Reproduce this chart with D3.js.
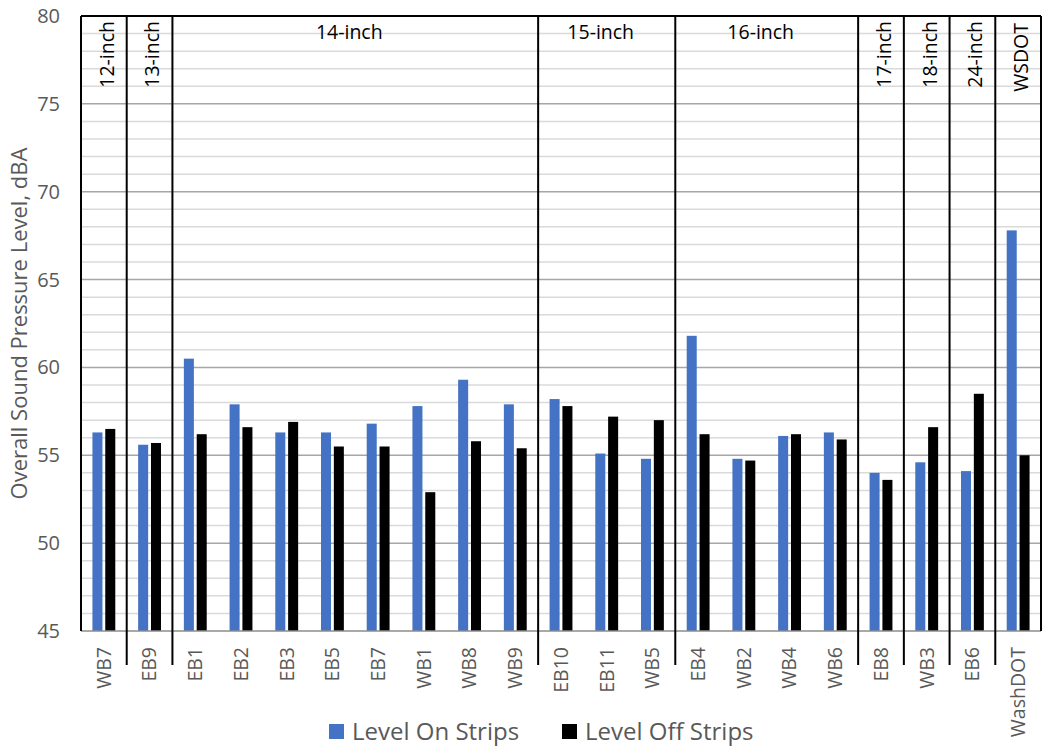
<!DOCTYPE html>
<html>
<head>
<meta charset="utf-8">
<script src="https://cdn.jsdelivr.net/npm/d3@7"></script>
<style>
  html, body { margin: 0; padding: 0; background: #fff; }
  svg { display: block; font-family: "Open Sans", Lato, sans-serif; }
</style>
</head>
<body>
<svg id="chart" width="1045" height="748"></svg>
<script>
// Measurement sites, in plotting order
const sites = ["WB7", "EB9", "EB1", "EB2", "EB3", "EB5", "EB7", "WB1", "WB8", "WB9",
               "EB10", "EB11", "WB5", "EB4", "WB2", "WB4", "WB6", "EB8", "WB3", "EB6", "WashDOT"];

// Overall sound pressure level (dBA) with the rumble strips and without
const levelOnStrips  = [56.3, 55.6, 60.5, 57.9, 56.3, 56.3, 56.8, 57.8, 59.3, 57.9,
                        58.2, 55.1, 54.8, 61.8, 54.8, 56.1, 56.3, 54.0, 54.6, 54.1, 67.8];
const levelOffStrips = [56.5, 55.7, 56.2, 56.6, 56.9, 55.5, 55.5, 52.9, 55.8, 55.4,
                        57.8, 57.2, 57.0, 56.2, 54.7, 56.2, 55.9, 53.6, 56.6, 58.5, 55.0];

// Strip-width groups: label, first site, last site
const groupNames = ["12-inch", "13-inch", "14-inch", "15-inch", "16-inch", "17-inch", "18-inch", "24-inch", "WSDOT"];
const groupStart = ["WB7", "EB9", "EB1", "EB10", "EB4", "EB8", "WB3", "EB6", "WashDOT"];
const groupEnd   = ["WB7", "EB9", "WB9", "WB5", "WB6", "EB8", "WB3", "EB6", "WashDOT"];

const seriesNames = ["Level On Strips", "Level Off Strips"];
const seriesColors = ["#4472C4", "#000000"];

const yTicks = [45, 50, 55, 60, 65, 70, 75, 80];
const yMinorTicks = d3.range(46, 80);

const rows = sites.map((s, i) => ({ site: s, values: [levelOnStrips[i], levelOffStrips[i]] }));

const svg = d3.select("#chart");
const plot = { left: 81, right: 1041, top: 16, bottom: 631 };

const x = d3.scaleBand()
  .domain(sites)
  .range([plot.left, plot.right])
  .paddingInner(0.5)
  .paddingOuter(0.25);

const x1 = d3.scaleBand()
  .domain(seriesNames)
  .range([0, x.bandwidth()])
  .paddingInner(0.22);

const y = d3.scaleLinear()
  .domain([45, 80])
  .range([plot.bottom, plot.top]);

const color = d3.scaleOrdinal(seriesNames, seriesColors);

// left edge of a site's slot
const slotLeft = s => x(s) - x.step() * x.paddingOuter();
const slotRight = s => slotLeft(s) + x.step();

// Gridlines
svg.append("g")
  .selectAll("line.minor")
  .data(yMinorTicks.filter(v => v % 5 !== 0))
  .join("line")
  .attr("x1", plot.left).attr("x2", plot.right)
  .attr("y1", d => y(d)).attr("y2", d => y(d))
  .attr("stroke", "#dadada").attr("stroke-width", 1.5);

svg.append("g")
  .selectAll("line.major")
  .data(yTicks.filter(v => v > 45 && v < 80))
  .join("line")
  .attr("x1", plot.left).attr("x2", plot.right)
  .attr("y1", d => y(d)).attr("y2", d => y(d))
  .attr("stroke", "#a6a6a6").attr("stroke-width", 1.5);

// Bars
svg.append("g")
  .selectAll("g")
  .data(rows)
  .join("g")
  .attr("transform", d => `translate(${x(d.site)},0)`)
  .selectAll("rect")
  .data(d => d.values.map((v, k) => ({ key: seriesNames[k], value: v })))
  .join("rect")
  .attr("x", d => x1(d.key))
  .attr("width", x1.bandwidth())
  .attr("y", d => y(d.value))
  .attr("height", d => y(45) - y(d.value))
  .attr("fill", d => color(d.key));

// Bottom axis line
svg.append("line")
  .attr("x1", plot.left).attr("x2", plot.right)
  .attr("y1", y(45)).attr("y2", y(45))
  .attr("stroke", "#8c8c8c").attr("stroke-width", 1.5);

// Frame: top edge, left and right edges
svg.append("line")
  .attr("x1", plot.left).attr("x2", plot.right)
  .attr("y1", plot.top).attr("y2", plot.top)
  .attr("stroke", "#000").attr("stroke-width", 2);
svg.append("line")
  .attr("x1", plot.left).attr("x2", plot.left)
  .attr("y1", plot.top).attr("y2", plot.bottom)
  .attr("stroke", "#000").attr("stroke-width", 2);
svg.append("line")
  .attr("x1", plot.right).attr("x2", plot.right)
  .attr("y1", plot.top).attr("y2", plot.bottom)
  .attr("stroke", "#000").attr("stroke-width", 2);

// Group separators, running down past the axis
svg.append("g")
  .selectAll("line")
  .data(groupStart.slice(1))
  .join("line")
  .attr("x1", d => slotLeft(d)).attr("x2", d => slotLeft(d))
  .attr("y1", plot.top).attr("y2", plot.bottom + 34)
  .attr("stroke", "#000").attr("stroke-width", 2);

// Group labels
const groups = groupNames.map((g, i) => ({
  name: g,
  x0: slotLeft(groupStart[i]),
  x1: slotRight(groupEnd[i])
}));

svg.append("g")
  .selectAll("text")
  .data(groups.filter(g => g.x1 - g.x0 > 60))
  .join("text")
  .attr("x", d => (d.x0 + d.x1) / 2 - 6)
  .attr("y", 39)
  .attr("text-anchor", "middle")
  .attr("font-size", 19.5)
  .attr("fill", "#000")
  .text(d => d.name);

svg.append("g")
  .selectAll("text")
  .data(groups.filter(g => g.x1 - g.x0 <= 60))
  .join("text")
  .attr("transform", d => `translate(${(d.x0 + d.x1) / 2 + 3},${d.name === "WSDOT" ? 23 : 21}) rotate(-90)`)
  .attr("text-anchor", "end")
  .attr("dy", "0.35em")
  .attr("font-size", 19.5)
  .attr("fill", "#000")
  .text(d => d.name);

// Y tick labels
svg.append("g")
  .selectAll("text")
  .data(yTicks)
  .join("text")
  .attr("x", 60)
  .attr("y", d => y(d))
  .attr("dy", "0.35em")
  .attr("text-anchor", "end")
  .attr("font-size", 20)
  .attr("fill", "#595959")
  .text(d => d);

// X tick labels
svg.append("g")
  .selectAll("text")
  .data(sites)
  .join("text")
  .attr("transform", d => `translate(${x(d) + x.bandwidth() / 2},${plot.bottom + 16}) rotate(-90)`)
  .attr("text-anchor", "end")
  .attr("dy", "0.35em")
  .attr("font-size", 19.5)
  .attr("fill", "#595959")
  .text(d => d);

// Y axis title
svg.append("text")
  .attr("transform", `translate(19,${(plot.top + plot.bottom) / 2}) rotate(-90)`)
  .attr("text-anchor", "middle")
  .attr("dy", "0.35em")
  .attr("font-size", 22)
  .attr("fill", "#595959")
  .text("Overall Sound Pressure Level, dBA");

// Legend
const legendX = [329, 562];
const legend = svg.append("g")
  .selectAll("g")
  .data(seriesNames)
  .join("g")
  .attr("transform", (d, i) => `translate(${legendX[i]},724)`);
legend.append("rect")
  .attr("width", 15).attr("height", 15)
  .attr("fill", d => color(d));
legend.append("text")
  .attr("x", 23).attr("y", 16)
  .attr("font-size", 24)
  .attr("fill", "#595959")
  .text(d => d);
</script>
</body>
</html>
